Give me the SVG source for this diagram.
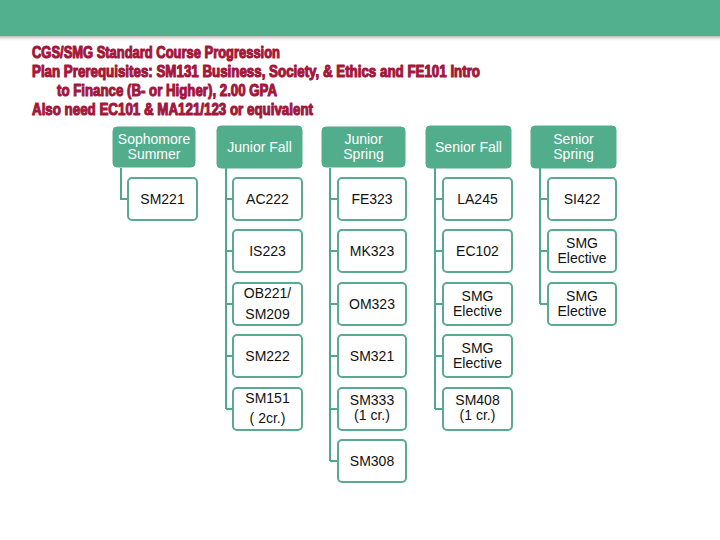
<svg xmlns="http://www.w3.org/2000/svg" width="720" height="540" viewBox="0 0 720 540">
<defs>
<linearGradient id="sh" x1="0" y1="0" x2="0" y2="1">
<stop offset="0" stop-color="#9a9a9a" stop-opacity="0.7"/>
<stop offset="1" stop-color="#ffffff" stop-opacity="0"/>
</linearGradient>
<style>
.title{font-family:"Liberation Sans",Arial,sans-serif;font-weight:bold;font-size:16px;fill:#a3163a;stroke:#a3163a;stroke-width:1.1;stroke-linejoin:round}
.hdr rect{fill:#52ad8c;stroke:#52ad8c;stroke-width:1}
.hdr text{font-family:"Liberation Sans",Arial,sans-serif;font-size:14px;fill:#ffffff;text-anchor:middle}
.item rect{fill:#ffffff;stroke:#5aaa8e;stroke-width:2}
.item text{font-family:"Liberation Sans",Arial,sans-serif;font-size:14px;fill:#111111;text-anchor:middle}
.conn path{fill:none;stroke:#4ea88a;stroke-width:2}
</style>
</defs>
<rect x="0" y="0" width="720" height="540" fill="#ffffff"/>
<rect x="0" y="36" width="720" height="6" fill="url(#sh)"/>
<rect x="0" y="0" width="720" height="36" fill="#52b08f"/>
<g id="title">
<text class="title" x="32" y="58" textLength="248" lengthAdjust="spacingAndGlyphs">CGS/SMG Standard Course Progression</text>
<text class="title" x="32" y="77" textLength="448" lengthAdjust="spacingAndGlyphs">Plan Prerequisites: SM131 Business, Society, &amp; Ethics and FE101 Intro</text>
<text class="title" x="57" y="96" textLength="220" lengthAdjust="spacingAndGlyphs">to Finance (B- or Higher), 2.00 GPA</text>
<text class="title" x="32" y="115" textLength="281" lengthAdjust="spacingAndGlyphs">Also need EC101 &amp; MA121/123 or equivalent</text>
</g>
<g id="connectors" class="conn">
<path d="M121 168 V199 H128"/>
<path d="M226 168 V409 M226 199 H233 M226 251 H233 M226 304 H233 M226 356 H233 M226 409 H233"/>
<path d="M330 168 V461 M330 199 H338 M330 251 H338 M330 304 H338 M330 356 H338 M330 409 H338 M330 461 H338"/>
<path d="M435 168 V409 M435 199 H443 M435 251 H443 M435 304 H443 M435 356 H443 M435 409 H443"/>
<path d="M540 168 V304 M540 199 H548 M540 251 H548 M540 304 H548"/>
</g>
<g id="h-soph" class="hdr"><rect x="113" y="127" width="82" height="40" rx="4"/><text x="154" y="144">Sophomore</text><text x="154" y="159">Summer</text></g>
<g id="h-jf" class="hdr"><rect x="217" y="126" width="85" height="42" rx="4"/><text x="259.5" y="152">Junior Fall</text></g>
<g id="h-js" class="hdr"><rect x="322" y="127" width="83" height="40" rx="4"/><text x="363.5" y="144">Junior</text><text x="363.5" y="159">Spring</text></g>
<g id="h-sf" class="hdr"><rect x="426" y="126" width="85" height="42" rx="4"/><text x="468.5" y="152">Senior Fall</text></g>
<g id="h-ss" class="hdr"><rect x="531" y="126" width="85" height="42" rx="4"/><text x="573.5" y="144">Senior</text><text x="573.5" y="159">Spring</text></g>

<g id="sm221" class="item"><rect x="128" y="178" width="69" height="42" rx="4"/><text x="162.5" y="204">SM221</text></g>

<g id="ac222" class="item"><rect x="233" y="178" width="69" height="42" rx="4"/><text x="267.5" y="204">AC222</text></g>
<g id="is223" class="item"><rect x="233" y="230" width="69" height="42" rx="4"/><text x="267.5" y="256">IS223</text></g>
<g id="ob221" class="item"><rect x="233" y="283" width="69" height="42" rx="4"/><text x="267.5" y="298">OB221/</text><text x="267.5" y="319">SM209</text></g>
<g id="sm222" class="item"><rect x="233" y="335" width="69" height="42" rx="4"/><text x="267.5" y="361">SM222</text></g>
<g id="sm151" class="item"><rect x="233" y="388" width="69" height="42" rx="4"/><text x="267.5" y="403">SM151</text><text x="267.5" y="423">( 2cr.)</text></g>

<g id="fe323" class="item"><rect x="338" y="178" width="68" height="42" rx="4"/><text x="372" y="204">FE323</text></g>
<g id="mk323" class="item"><rect x="338" y="230" width="68" height="42" rx="4"/><text x="372" y="256">MK323</text></g>
<g id="om323" class="item"><rect x="338" y="283" width="68" height="42" rx="4"/><text x="372" y="309">OM323</text></g>
<g id="sm321" class="item"><rect x="338" y="335" width="68" height="42" rx="4"/><text x="372" y="361">SM321</text></g>
<g id="sm333" class="item"><rect x="338" y="388" width="68" height="42" rx="4"/><text x="372" y="405">SM333</text><text x="372" y="420">(1 cr.)</text></g>
<g id="sm308" class="item"><rect x="338" y="440" width="68" height="42" rx="4"/><text x="372" y="466">SM308</text></g>

<g id="la245" class="item"><rect x="443" y="178" width="69" height="42" rx="4"/><text x="477.5" y="204">LA245</text></g>
<g id="ec102" class="item"><rect x="443" y="230" width="69" height="42" rx="4"/><text x="477.5" y="256">EC102</text></g>
<g id="sf-elec1" class="item"><rect x="443" y="283" width="69" height="42" rx="4"/><text x="477.5" y="301">SMG</text><text x="477.5" y="316">Elective</text></g>
<g id="sf-elec2" class="item"><rect x="443" y="335" width="69" height="42" rx="4"/><text x="477.5" y="353">SMG</text><text x="477.5" y="368">Elective</text></g>
<g id="sm408" class="item"><rect x="443" y="388" width="69" height="42" rx="4"/><text x="477.5" y="405">SM408</text><text x="477.5" y="420">(1 cr.)</text></g>

<g id="si422" class="item"><rect x="548" y="178" width="68" height="42" rx="4"/><text x="582" y="204">SI422</text></g>
<g id="ss-elec1" class="item"><rect x="548" y="230" width="68" height="42" rx="4"/><text x="582" y="248">SMG</text><text x="582" y="263">Elective</text></g>
<g id="ss-elec2" class="item"><rect x="548" y="283" width="68" height="42" rx="4"/><text x="582" y="301">SMG</text><text x="582" y="316">Elective</text></g>
</svg>
